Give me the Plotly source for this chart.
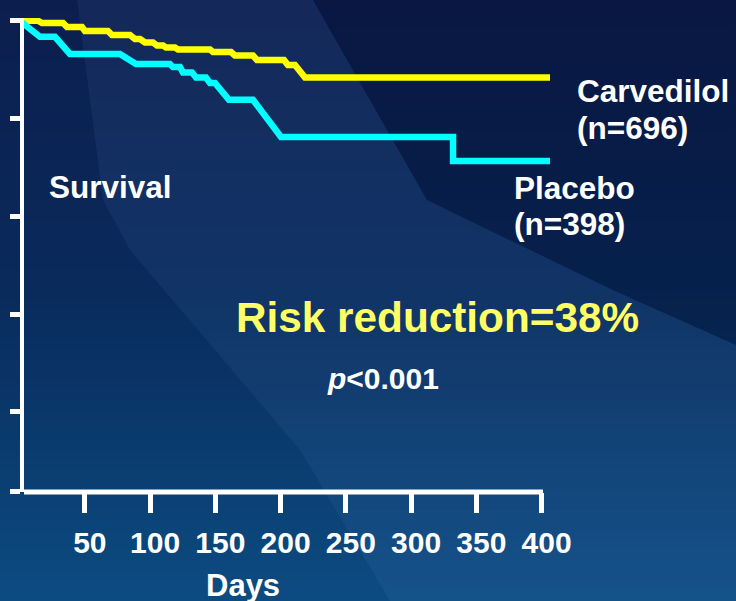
import plotly.graph_objects as go

# ---------------- data ----------------
days_carvedilol = [0, 14.1, 17.2, 33.3, 36.3, 47.8, 50.1, 67.7, 70.8, 84.6, 88.4, 92.3, 96.1,
                   102.2, 105.3, 109.9, 112.2, 119.1, 121.4, 145.9, 148.2, 162.0, 165.0,
                   178.8, 181.9, 202.6, 205.6, 211.0, 218.7, 406.4]
surv_carvedilol = [1.0, 1.0, 0.9976, 0.9976, 0.9936, 0.9936, 0.9895, 0.9895, 0.9854, 0.9854,
                   0.9813, 0.9813, 0.9777, 0.9777, 0.9746, 0.9746, 0.9726, 0.9726, 0.9706,
                   0.9706, 0.9680, 0.9680, 0.9644, 0.9644, 0.9598, 0.9598, 0.9547, 0.9547,
                   0.9419, 0.9419]

days_placebo = [0, 15.6, 27.1, 38.6, 76.9, 89.2, 115.2, 117.5, 122.9, 125.2, 132.1, 135.2,
                142.8, 145.9, 149.7, 160.4, 178.8, 200.3, 332.1, 332.1, 406.4]
surv_placebo = [1.0, 0.9836, 0.9836, 0.9660, 0.9660, 0.9557, 0.9557, 0.9527, 0.9527, 0.9470,
                0.9470, 0.9419, 0.9419, 0.9363, 0.9363, 0.9192, 0.9192, 0.8811, 0.8811,
                0.8565, 0.8565]

x_tick_vals = [50, 100, 150, 200, 250, 300, 350, 400]
x_tick_text = ["50", "100", "150", "200", "250", "300", "350", "400"]
y_tick_vals = [1.0, 0.9, 0.8, 0.7, 0.6]

# ---------------- layout constants ----------------
W, H = 736, 601
PL, PR, PT, PB = 24, 550, 18, 492          # plot area in pixels
X_RANGE = [3.39, 406.4]
Y_RANGE = [0.5181, 1.00276]
AXIS_END_DAY = 401.0
FONT = "Liberation Sans, Arial, sans-serif"


def px(x):
    return (x - PL) / (PR - PL)


def py(y):
    return (PB - y) / (PB - PT)


fig = go.Figure()
fig.add_trace(go.Scatter(x=days_carvedilol, y=surv_carvedilol, mode="lines",
                         line=dict(color="#FFFF00", width=6.5), name="Carvedilol",
                         hoverinfo="skip"))
fig.add_trace(go.Scatter(x=days_placebo, y=surv_placebo, mode="lines",
                         line=dict(color="#00FFFF", width=6.5), name="Placebo",
                         hoverinfo="skip"))

shapes = []
# background vertical gradient
stops = [(0, (12, 30, 78)), (300, (9, 43, 92)), (601, (12, 76, 130))]


def col_at(y):
    for (y0, c0), (y1, c1) in zip(stops[:-1], stops[1:]):
        if y0 <= y <= y1:
            t = (y - y0) / (y1 - y0)
            return "rgb(%d,%d,%d)" % tuple(round(a + (b - a) * t) for a, b in zip(c0, c1))
    return "rgb(%d,%d,%d)" % stops[-1][1]


step = 10
for y0 in range(0, H, step):
    y1 = min(H, y0 + step + 1)
    shapes.append(dict(type="rect", xref="paper", yref="paper", layer="below",
                       x0=px(0), x1=px(W), y0=py(y1), y1=py(y0),
                       fillcolor=col_at(y0 + step / 2), line=dict(width=0)))


def poly(points):
    d = "M " + " L ".join("%.5f,%.5f" % (px(a), py(b)) for a, b in points) + " Z"
    return d


# lighter diagonal band
shapes.append(dict(type="path", xref="paper", yref="paper", layer="below",
                   path=poly([(77, 0), (313, 0), (427, 200), (613, 290), (736, 345), (736, 601),
                              (390, 601), (300, 450), (130, 250), (103, 200)]),
                   fillcolor="rgba(120,170,230,0.08)", line=dict(width=0)))
# darker top-right
shapes.append(dict(type="path", xref="paper", yref="paper", layer="below",
                   path=poly([(313, 0), (736, 0), (736, 345), (613, 290), (427, 200)]),
                   fillcolor="rgba(0,5,30,0.25)", line=dict(width=0)))

# x axis line
shapes.append(dict(type="line", xref="x", yref="paper", x0=X_RANGE[0], x1=AXIS_END_DAY,
                   y0=0, y1=0, line=dict(color="white", width=5), layer="above"))

ann = []


def text(s, x, y, size, color="white", xanchor="left"):
    ann.append(dict(text=s, xref="paper", yref="paper", x=px(x), y=py(y), xanchor=xanchor,
                    yanchor="middle", showarrow=False,
                    font=dict(family=FONT, size=size, color=color, weight="bold")))


text("Survival", 47, 186.5, 31.5)
text("Carvedilol", 575, 91, 31.5)
text("(n=696)", 575, 128, 31.5)
text("Placebo", 512, 187.5, 31.5)
text("(n=398)", 512, 224, 31.5)
text("Risk reduction=38%", 234, 317, 42.3, color="#FFFF66")
text("<i>p</i><0.001", 325, 378.5, 30)
text("Days", 243, 585, 31, xanchor="center")

fig.update_layout(
    width=W, height=H,
    margin=dict(l=PL, r=W - PR, t=PT, b=H - PB, pad=0),
    paper_bgcolor="rgb(10,40,90)",
    plot_bgcolor="rgba(0,0,0,0)",
    showlegend=False,
    shapes=shapes,
    annotations=ann,
    xaxis=dict(range=X_RANGE, showline=False, showgrid=False, zeroline=False,
               ticks="outside", ticklen=20, tickwidth=5, tickcolor="white",
               tickvals=x_tick_vals, ticktext=x_tick_text, ticklabelshift=5,
               ticklabelstandoff=4,
               tickfont=dict(family=FONT, size=30, color="white", weight="bold")),
    yaxis=dict(range=Y_RANGE, showline=True, linecolor="white", linewidth=4,
               showgrid=False, zeroline=False, ticks="outside", ticklen=10, tickwidth=5,
               tickcolor="white", tickvals=[Y_RANGE[0] + 0.0003] + y_tick_vals,
               showticklabels=False),
)

fig.write_html("out.html", config={"displayModeBar": False},
               post_script="document.body.style.margin='0';")
